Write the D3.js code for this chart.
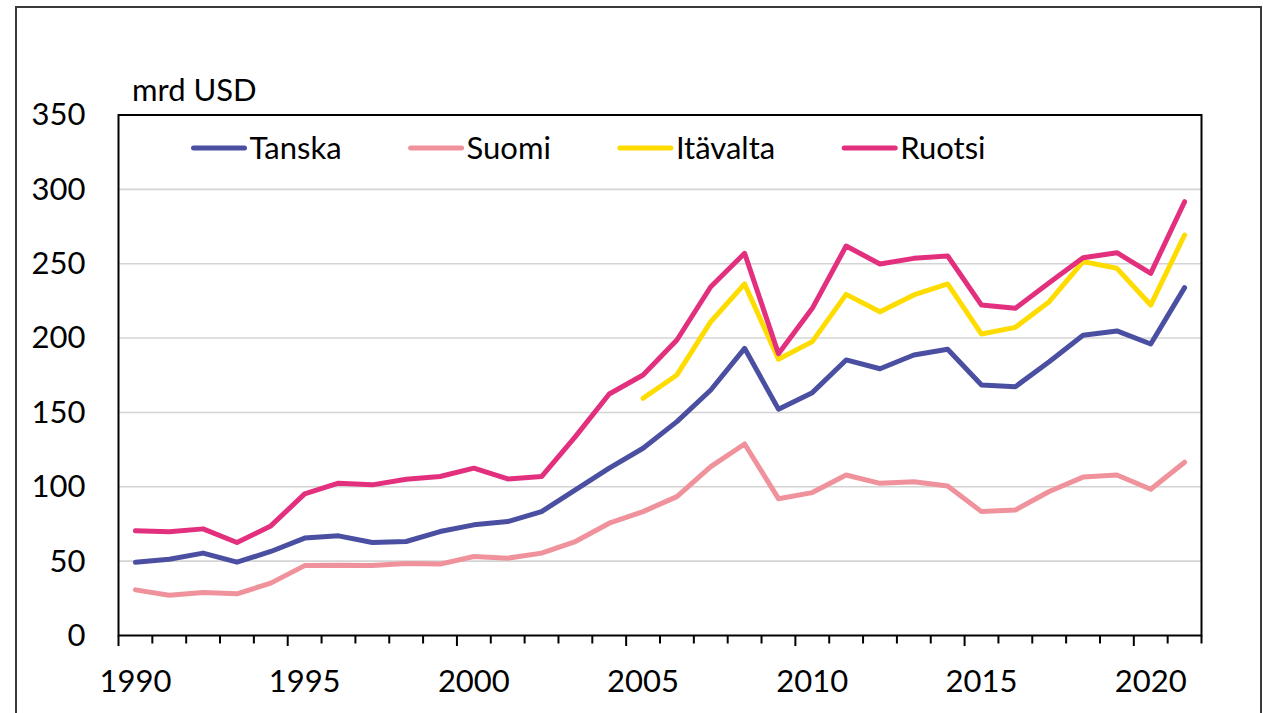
<!DOCTYPE html>
<html>
<head>
<meta charset="utf-8">
<script src="https://cdn.jsdelivr.net/npm/d3@7"></script>
<style>
  html, body { margin: 0; padding: 0; background: #fff; }
  svg { display: block; }
  text { font-family: Lato, "Open Sans", sans-serif; fill: #000; }
</style>
</head>
<body>
<svg id="chart" width="1268" height="713"></svg>
<script>
// Years on the category axis
const years = d3.range(1990, 2022);

// Series values, mrd USD
const tanska = [49.3, 51.3, 55.4, 49.3, 56.5, 65.5, 67.0, 62.5, 63.2, 69.9, 74.4, 76.6, 83.3, 97.9, 112.5, 125.9,
  143.8, 165.1, 193.1, 152.2, 163.3, 185.3, 179.4, 188.6, 192.5, 168.5, 167.3, 184.1, 201.9, 204.8, 196.0, 233.9];
const suomi = [30.7, 27.1, 28.9, 28.0, 35.2, 47.0, 47.3, 47.0, 48.4, 48.0, 53.1, 52.0, 55.4, 63.2, 75.5, 83.3,
  93.4, 113.6, 128.8, 92.0, 96.1, 107.9, 102.3, 103.4, 100.5, 83.3, 84.4, 96.8, 106.5, 107.9, 98.3, 116.5];
const itavalta = [null, null, null, null, null, null, null, null, null, null, null, null, null, null, null, 159.5,
  175.2, 211.0, 236.4, 185.8, 197.6, 229.4, 217.7, 229.0, 236.4, 202.7, 207.2, 224.5, 251.4, 246.9, 222.2, 269.3];
const ruotsi = [70.4, 69.7, 71.7, 62.5, 73.7, 95.2, 102.4, 101.3, 105.1, 106.9, 112.5, 105.3, 106.9, 133.7, 162.4, 175.2,
  198.7, 234.5, 257.0, 189.5, 220.0, 261.9, 249.8, 253.6, 255.2, 222.2, 220.0, 237.2, 254.0, 257.4, 243.5, 291.7];

const seriesNames = ["Tanska", "Suomi", "Itävalta", "Ruotsi"];
const seriesValues = [tanska, suomi, itavalta, ruotsi];
const seriesColors = ["#4a4fa1", "#f0929b", "#ffdc00", "#e22f7e"];

const yTicks = [0, 50, 100, 150, 200, 250, 300, 350];
const xLabelYears = [1990, 1995, 2000, 2005, 2010, 2015, 2020];
const unitLabel = "mrd USD";

const fontSize = 31;
const svg = d3.select("#chart");
const plot = { left: 118.5, right: 1201.5, top: 115, bottom: 635.5 };

// Outer frame
svg.append("rect")
  .attr("x", 16).attr("y", 7)
  .attr("width", 1245).attr("height", 720)
  .attr("fill", "none").attr("stroke", "#3a3a3a").attr("stroke-width", 2);

const x = d3.scaleBand().domain(years).range([plot.left, plot.right]).padding(0);
const y = d3.scaleLinear().domain([0, 350]).range([plot.bottom, plot.top]);
const cx = yr => x(yr) + x.bandwidth() / 2;

// Horizontal gridlines
svg.append("g").selectAll("line")
  .data(yTicks.filter(v => v > 0 && v < 350))
  .join("line")
  .attr("x1", plot.left).attr("x2", plot.right)
  .attr("y1", d => y(d)).attr("y2", d => y(d))
  .attr("stroke", "#d4d4d4").attr("stroke-width", 1.6);

// Y axis labels
const yAxis = svg.append("g")
  .attr("transform", `translate(${plot.left},0)`)
  .call(d3.axisLeft(y).tickValues(yTicks).tickSize(0).tickPadding(33));
yAxis.select(".domain").remove();
yAxis.selectAll("text")
  .attr("font-size", fontSize).attr("font-family", "Lato, sans-serif").attr("fill", "#000");

// X axis tick marks at category boundaries
const boundaries = years.map(yr => ({ pos: x(yr), major: (yr - 1990) % 5 === 0 }))
  .concat([{ pos: plot.right, major: false }]);
svg.append("g").selectAll("line")
  .data(boundaries)
  .join("line")
  .attr("x1", d => d.pos).attr("x2", d => d.pos)
  .attr("y1", plot.bottom).attr("y2", d => plot.bottom + (d.major ? 10.5 : 8))
  .attr("stroke", "#000").attr("stroke-width", 2);

// X axis labels
svg.append("g").selectAll("text")
  .data(xLabelYears)
  .join("text")
  .attr("x", d => cx(d)).attr("y", 692)
  .attr("text-anchor", "middle")
  .attr("font-size", fontSize)
  .text(d => d);

// Series lines
const line = d3.line()
  .defined(d => d.v != null)
  .x(d => cx(d.year))
  .y(d => y(d.v));

svg.append("g").selectAll("path")
  .data(seriesValues.map((vals, i) => ({ color: seriesColors[i], pts: years.map((yr, j) => ({ year: yr, v: vals[j] })) })))
  .join("path")
  .attr("d", d => line(d.pts))
  .attr("fill", "none")
  .attr("stroke", d => d.color)
  .attr("stroke-width", 5)
  .attr("stroke-linejoin", "round")
  .attr("stroke-linecap", "round");

// Plot area border
svg.append("rect")
  .attr("x", plot.left).attr("y", plot.top)
  .attr("width", plot.right - plot.left).attr("height", plot.bottom - plot.top)
  .attr("fill", "none").attr("stroke", "#000").attr("stroke-width", 2);

// Unit label
svg.append("text")
  .attr("x", 132).attr("y", 101)
  .attr("font-size", fontSize)
  .text(unitLabel);

// Legend
const legend = svg.append("g");
let lx = 193.5;
seriesNames.forEach((name, i) => {
  const g = legend.append("g");
  g.append("line")
    .attr("x1", lx).attr("x2", lx + 51)
    .attr("y1", 148).attr("y2", 148)
    .attr("stroke", seriesColors[i]).attr("stroke-width", 5)
    .attr("stroke-linecap", "round");
  const t = g.append("text")
    .attr("x", lx + 56).attr("y", 159)
    .attr("font-size", fontSize)
    .text(name);
  lx += 56 + t.node().getComputedTextLength() + 69;
});
</script>
</body>
</html>
